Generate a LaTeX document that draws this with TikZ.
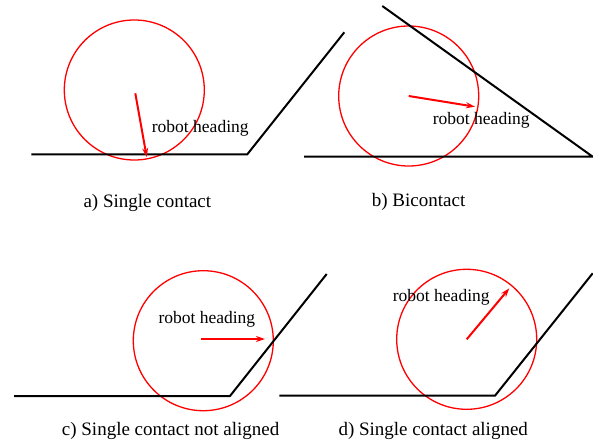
\documentclass[tikz,border=0pt]{standalone}
\usepackage{fontspec}
\setmainfont{Liberation Serif}
\usetikzlibrary{arrows.meta}
\begin{document}
\begin{tikzpicture}[x=1pt,y=-1pt,
  robot/.style={draw=red,line width=1.3pt,circle,minimum size=140pt,inner sep=0pt},
  wall/.style={draw=black,line width=2pt,line join=miter},
  heading/.style={draw=red,line width=2pt,-{Stealth[length=9pt,width=6pt]}},
  lbl/.style={anchor=base west,inner sep=0pt,font=\fontsize{17.5}{20}\selectfont},
  captiontext/.style={anchor=base west,inner sep=0pt,font=\fontsize{19}{22}\selectfont}]
\useasboundingbox (0,0) rectangle (593,444);
% panel a
\node[robot] (ra) at (134.3,90) {};
\coordinate (a1) at (31.3,154.3);
\coordinate (a2) at (247.3,154.3);
\coordinate (a3) at (344.3,32.3);
\coordinate (sa) at (135.3,93.3);
\coordinate (ta) at (146.7,157);
\draw[wall] (a1) -- (a2) -- (a3);
\draw[heading] (sa) -- (ta);
\node[lbl] (la) at (151.7,132.3) {robot heading};
\node[captiontext] (ca) at (83.3,207.3) {a) Single contact};
% panel b
\node[robot] (rb) at (408.7,96) {};
\coordinate (b1) at (304,156.7);
\coordinate (b2) at (592.7,156.7);
\coordinate (b3) at (382.3,6);
\coordinate (tb) at (475,106.7);
\draw[wall] (b1) -- (b2) -- (b3);
\draw[heading] (rb.center) -- (tb);
\node[lbl] (lb) at (432.7,124.3) {robot heading};
\node[captiontext] (cb) at (371.7,206.7) {b) Bicontact};
% panel c
\node[robot] (rc) at (203.3,340.7) {};
\coordinate (c1) at (14,396);
\coordinate (c2) at (230,396);
\coordinate (c3) at (326.7,274);
\coordinate (sc) at (201,339);
\coordinate (tc) at (265,339);
\draw[wall] (c1) -- (c2) -- (c3);
\draw[heading] (sc) -- (tc);
\node[lbl] (lc) at (158.3,323.3) {robot heading};
\node[captiontext] (cc) at (61.7,435) {c) Single contact not aligned};
% panel d
\node[robot] (rd) at (466.7,339.3) {};
\coordinate (d1) at (279.3,395.7);
\coordinate (d2) at (495,395.7);
\coordinate (d3) at (592.7,273.3);
\coordinate (td) at (509.3,288.3);
\draw[wall] (d1) -- (d2) -- (d3);
\draw[heading] (rd.center) -- (td);
\node[lbl] (ld) at (392.7,301.7) {robot heading};
\node[captiontext] (cd) at (338.3,435) {d) Single contact aligned};
\end{tikzpicture}
\end{document}
